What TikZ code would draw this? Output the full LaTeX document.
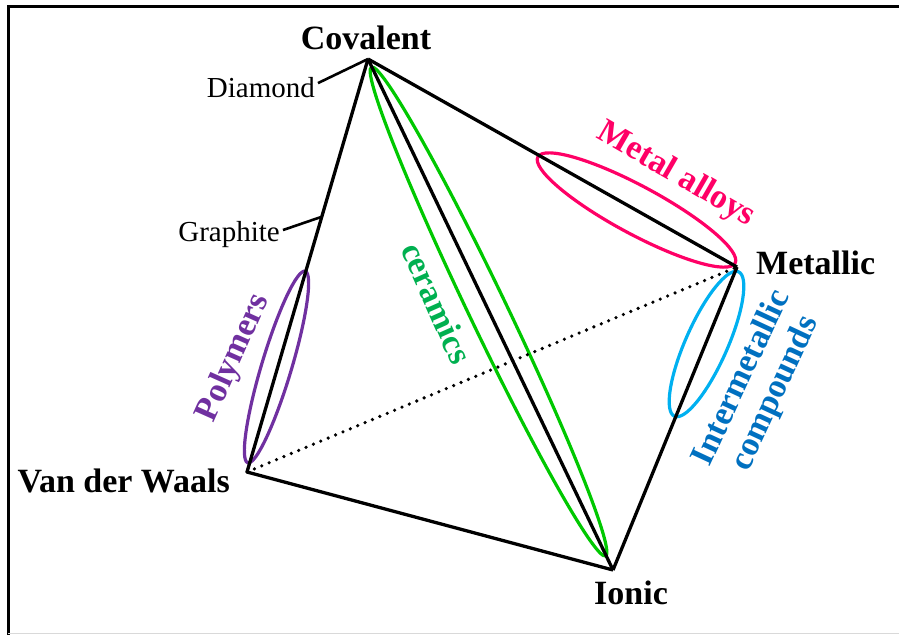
\documentclass[tikz,border=0pt]{standalone}
\usepackage{fontspec}
\setmainfont{Liberation Serif}
\usetikzlibrary{calc}
\definecolor{pinkc}{HTML}{FF0066}
\definecolor{purplec}{HTML}{7030A0}
\definecolor{greenE}{HTML}{00C800}
\definecolor{greenT}{HTML}{00B050}
\definecolor{blueE}{HTML}{00B0F0}
\definecolor{blueT}{HTML}{0070C0}
\begin{document}
\begin{tikzpicture}[x=1pt,y=-1pt,
  edge/.style={line width=3.3pt,line join=miter},
  dotedge/.style={line width=3.6pt,line cap=round,dash pattern=on 0pt off 8pt},
  ell/.style={line width=3.2pt},
  bigl/.style={font=\fontsize{34}{39}\selectfont\bfseries,inner sep=0pt},
  smalll/.style={font=\fontsize{29}{34}\selectfont,inner sep=0pt},
  rotl/.style={font=\fontsize{34}{37}\selectfont\bfseries,inner sep=0pt,align=center}]
\useasboundingbox (0,0) rectangle (899,635);
% frame
\draw[line width=3pt] (8,635) -- (8,6) -- (899,6);
\draw[line width=1.5pt,black!15] (8,633.5) -- (899,633.5);
% vertices
\coordinate (cov) at (368,59);
\coordinate (met) at (737,267);
\coordinate (vdw) at (247,472);
\coordinate (ion) at (613,570);
% ellipses
\begin{scope}[shift={(636.5,210)},rotate=-28.3]
  \draw[ell,pinkc] (0,0) ellipse [x radius=112,y radius=24];
\end{scope}
\begin{scope}[shift={(488.5,311.5)},rotate=-64.4]
  \draw[ell,greenE] (0,0) ellipse [x radius=271,y radius=19];
\end{scope}
\begin{scope}[shift={(276.5,367)},rotate=73.3]
  \draw[ell,purplec] (0,0) ellipse [x radius=100,y radius=15];
\end{scope}
\begin{scope}[shift={(706.5,344)},rotate=66.1]
  \draw[ell,blueE] (0,0) ellipse [x radius=79,y radius=21];
\end{scope}
% edges
\draw[dotedge] (vdw) -- (met);
\draw[edge] (cov) -- (vdw);
\draw[edge] (cov) -- (met);
\draw[edge] (cov) -- (ion);
\draw[edge] (vdw) -- (ion);
\draw[edge] (met) -- (ion);
% vertex labels
\node[bigl,anchor=base] (lcov) at (366,49) {Covalent};
\node[bigl,anchor=base west] (lmet) at (756,274) {Metallic};
\node[bigl,anchor=base east] (lvdw) at (230,492) {Van der Waals};
\node[bigl,anchor=base] (lion) at (631,604) {Ionic};
% small labels with leaders
\node[smalll,anchor=base east] (ldia) at (315,97) {Diamond};
\node[smalll,anchor=base east] (lgra) at (280,241) {Graphite};
\coordinate (gpt) at ($(cov)!0.382!(vdw)$);
\draw[line width=2.6pt] ($(ldia.east)+(3,-4)$) -- (cov);
\draw[line width=2.6pt] ($(lgra.east)+(3,-4)$) -- (gpt);
% class labels
\node[rotl,pinkc,rotate=-30] (lalloy) at (676,175) {Metal alloys};
\node[rotl,greenT,rotate=-66] (lcer) at (437,303) {ceramics};
\node[rotl,purplec,rotate=66] (lpoly) at (234,358) {Polymers};
\node[rotl,blueT,rotate=65] (linter) at (759,386) {Intermetallic\\compounds};
\end{tikzpicture}
\end{document}
